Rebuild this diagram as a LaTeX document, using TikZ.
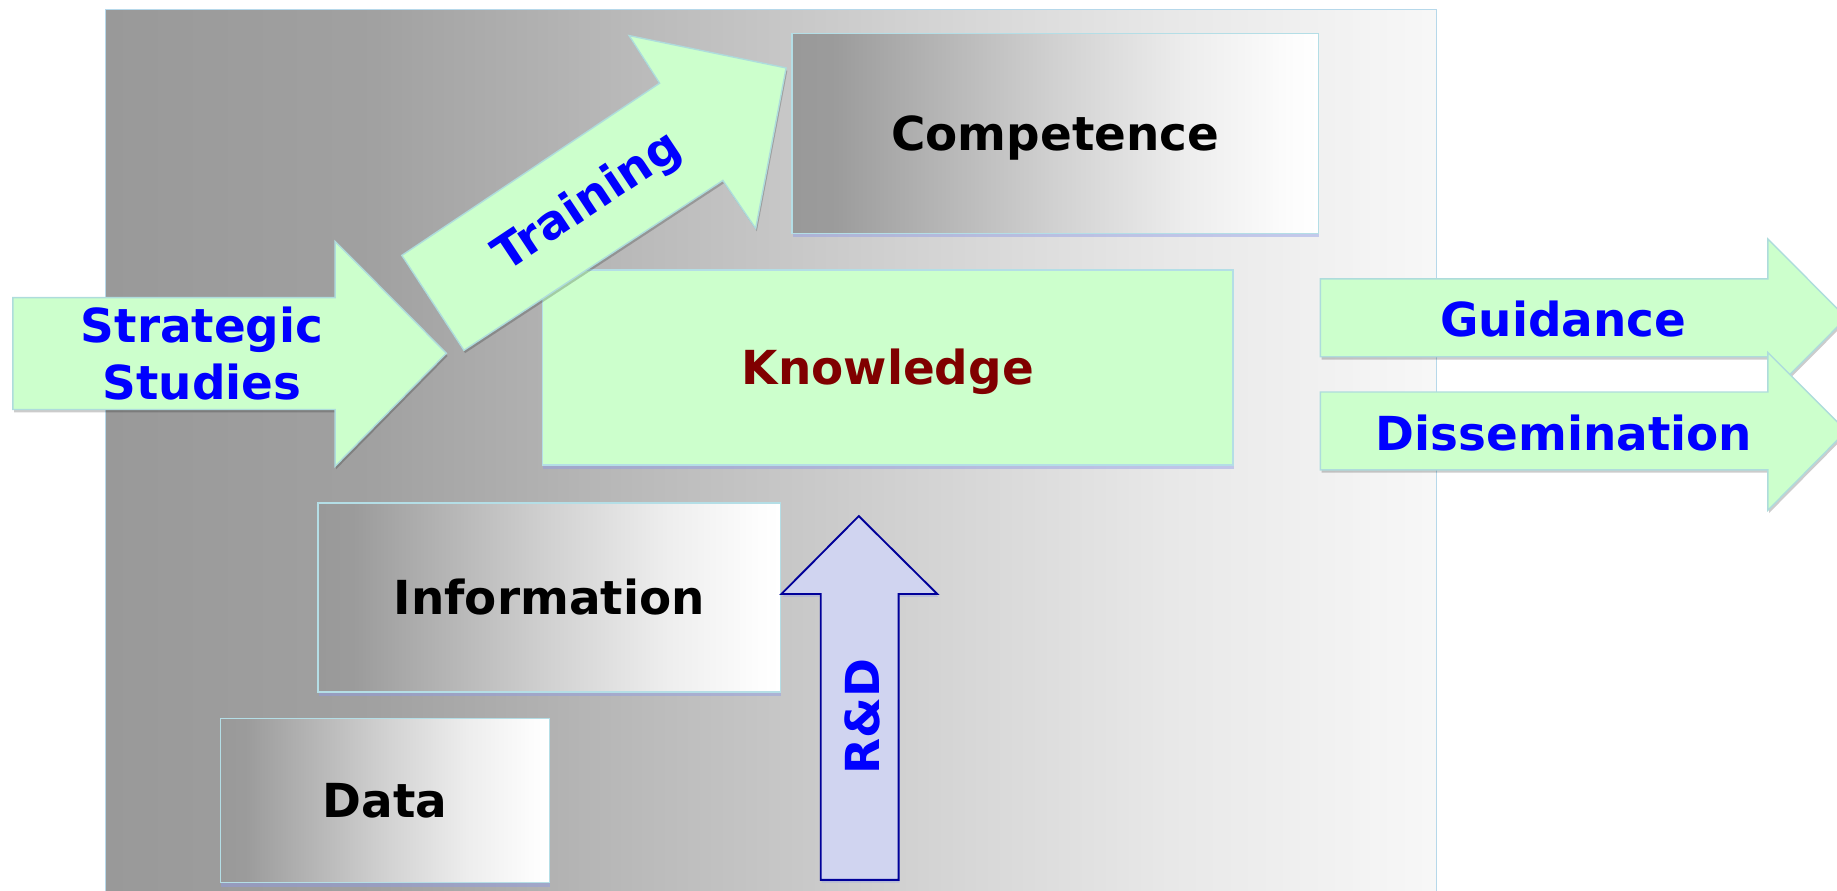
\documentclass[tikz,border=0pt]{standalone}
\usepackage{fontspec}
\setmainfont{DejaVu Sans}
\usetikzlibrary{shadows}
\definecolor{bgborder}{HTML}{B6D8EA}
\definecolor{boxborder}{HTML}{B4DEE6}
\definecolor{mint}{HTML}{CCFFCC}
\definecolor{arrowborder}{HTML}{AEDCDC}
\definecolor{knowred}{HTML}{800000}
\definecolor{txtblue}{HTML}{0000FF}
\definecolor{lav}{HTML}{D0D4F0}
\definecolor{navy}{HTML}{000099}
\definecolor{shblue}{HTML}{8E9AE6}
\definecolor{bgA}{gray}{0.60}
\definecolor{bgB}{gray}{0.63}
\definecolor{bgC}{gray}{0.73}
\definecolor{bgD}{gray}{0.83}
\definecolor{bgE}{gray}{0.91}
\definecolor{bgF}{gray}{0.97}
\definecolor{bxA}{gray}{0.60}
\definecolor{bxB}{gray}{0.61}
\definecolor{bxC}{gray}{0.72}
\definecolor{bxD}{gray}{0.82}
\definecolor{bxE}{gray}{0.93}
\definecolor{bxF}{gray}{0.99}
\definecolor{bxG}{gray}{1.00}
\pgfdeclarehorizontalshading{bgshade}{100bp}{color(0bp)=(bgA); color(25bp)=(bgA); color(35bp)=(bgB); color(45bp)=(bgC); color(56bp)=(bgD); color(65bp)=(bgE); color(75bp)=(bgF); color(100bp)=(bgF)}
\pgfdeclarehorizontalshading{boxshade}{100bp}{color(0bp)=(bxA); color(25bp)=(bxA); color(29bp)=(bxB); color(40bp)=(bxC); color(50bp)=(bxD); color(62.5bp)=(bxE); color(72.5bp)=(bxF); color(75bp)=(bxG); color(100bp)=(bxG)}
\tikzset{
  lbl/.style={font=\fontsize{20pt}{24.5pt}\selectfont\bfseries},
  boxshadow/.style={drop shadow={shadow xshift=0.3pt, shadow yshift=-1.6pt, fill=shblue, opacity=0.45}},
  graybox/.style={rectangle, draw=boxborder, line width=0.6pt, shading=boxshade, inner sep=0pt,
    text height=14.6pt, text depth=0pt, boxshadow, lbl},
  greenbox/.style={rectangle, draw=boxborder, line width=0.6pt, fill=mint, inner sep=0pt,
    text height=14.6pt, text depth=0pt, boxshadow, lbl},
  blockarrow/.style={fill=mint, draw=arrowborder, line width=0.6pt, line join=miter,
    drop shadow={shadow xshift=0.5pt, shadow yshift=-1.2pt, fill=black, opacity=0.2}},
  rdarrow/.style={fill=lav, draw=navy, line width=0.8pt, line join=miter,
    drop shadow={shadow xshift=0.4pt, shadow yshift=-1.2pt, fill=shblue, opacity=0.35}},
  arrowtext/.style={lbl, text=txtblue, inner sep=0pt}
}
\begin{document}
\begin{tikzpicture}[x=0.5pt, y=-0.5pt]
\useasboundingbox (0,0) rectangle (1568,760);
\clip (0,0) rectangle (1568,760);
% background panel
\path[shading=bgshade, draw=bgborder, line width=0.6pt] (90,8) rectangle (1226,770);
% boxes
\node[greenbox, minimum width=294.8pt, minimum height=83.25pt, text=knowred] (know) at (757.8,313.75) {Knowledge};
\node[graybox, minimum width=224.75pt, minimum height=85.5pt] (comp) at (900.75,114) {Competence};
\node[graybox, minimum width=197.25pt, minimum height=80.75pt] (info) at (468.75,510) {Information};
\node[graybox, minimum width=140.5pt, minimum height=70pt] (data) at (328.5,683.5) {Data};
% R&D arrow
\path[rdarrow] (733,440.5) -- (800,507) -- (767,507) -- (767,751) -- (700.6,751) -- (700.6,507) -- (667,507) -- cycle;
\node[arrowtext, rotate=90, anchor=base] (rd) at (750.3,611.7) {R\&D};
% Strategic Studies arrow
\path[blockarrow] (11,254) -- (286,254) -- (286,206) -- (381,301.5) -- (286,398) -- (286,349.5) -- (11,349.5) -- cycle;
\node[arrowtext, align=center, anchor=center] (strat) at (172.5,302) {Strategic\\Studies};
% Training arrow
\path[blockarrow] (343,218) -- (563,71) -- (537,30.4) -- (671,58) -- (645,195) -- (617,154) -- (396,299) -- cycle;
\node[arrowtext, rotate=33.6, anchor=center] (train) at (502,173) {Training};
% Guidance arrow
\path[blockarrow] (1127,238) -- (1509,238) -- (1509,204) -- (1576,271.25) -- (1509,338.5) -- (1509,304.5) -- (1127,304.5) -- cycle;
\node[arrowtext, anchor=base] (guid) at (1334.5,287.3) {Guidance};
% Dissemination arrow
\path[blockarrow] (1127,334.6) -- (1509,334.6) -- (1509,301) -- (1576,367.8) -- (1509,435.5) -- (1509,401) -- (1127,401) -- cycle;
\node[arrowtext, anchor=base] (diss) at (1335,384.1) {Dissemination};
\end{tikzpicture}
\end{document}
